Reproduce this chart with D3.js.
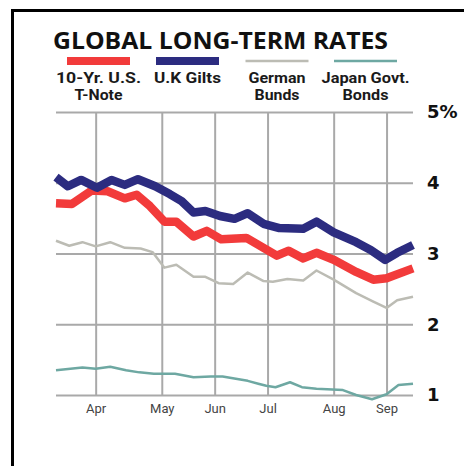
<!DOCTYPE html>
<html>
<head>
<meta charset="utf-8">
<script src="https://cdn.jsdelivr.net/npm/d3@7"></script>
<style>
  body { margin: 0; background: #fff; }
  svg { display: block; }
  .grid line { stroke: #a9a9a9; stroke-width: 2; }
  .grid .domain { display: none; }
  .yaxis text { font-family: "DejaVu Sans", sans-serif; font-weight: bold; font-size: 18px; fill: #111; }
  .xaxis text { font-family: Roboto, "Liberation Sans", sans-serif; font-size: 13px; fill: #444; }
  .legend text { font-family: Roboto, "Liberation Sans", sans-serif; font-weight: bold; font-size: 14px; fill: #1a1a1a; }
</style>
</head>
<body>
<svg id="chart" width="464" height="466"></svg>
<script>
// weekly-ish readings, [week index, percent]
const usNote = [[0,3.71],[1.2,3.70],[2.7,3.89],[3.9,3.88],[5.2,3.78],[6.1,3.83],[7.1,3.67],[8.2,3.45],[9.1,3.45],[10.4,3.24],[11.4,3.32],[12.5,3.20],[14.4,3.22],[15.6,3.09],[16.7,2.97],[17.6,3.04],[18.7,2.93],[19.7,3.01],[21.0,2.91],[22.7,2.74],[24.0,2.63],[25.0,2.65],[27,2.79]];
const ukGilts = [[0,4.08],[0.9,3.95],[1.9,4.04],[3.1,3.93],[4.2,4.04],[5.2,3.97],[6.2,4.05],[7.5,3.95],[8.6,3.84],[9.5,3.74],[10.4,3.58],[11.3,3.60],[12.4,3.53],[13.5,3.49],[14.5,3.57],[15.7,3.42],[16.9,3.36],[18.7,3.35],[19.7,3.45],[21.0,3.30],[22.7,3.16],[23.8,3.05],[24.9,2.91],[25.8,3.01],[27,3.12]];
const germanBunds = [[0,3.18],[1.0,3.11],[2.0,3.16],[3.0,3.10],[4.1,3.16],[5.2,3.08],[6.4,3.07],[7.3,3.02],[8.2,2.80],[9.1,2.84],[10.4,2.67],[11.3,2.67],[12.3,2.58],[13.4,2.57],[14.5,2.73],[15.7,2.61],[16.4,2.60],[17.5,2.64],[18.7,2.62],[19.7,2.76],[21.0,2.63],[22.7,2.44],[24.0,2.32],[25.0,2.23],[25.8,2.34],[27,2.39]];
const japanBonds = [[0,1.35],[2.0,1.39],[3.0,1.37],[4.1,1.40],[5.3,1.35],[6.3,1.32],[7.4,1.30],[9.0,1.30],[10.4,1.25],[11.7,1.26],[12.6,1.26],[13.6,1.23],[14.5,1.20],[15.3,1.16],[15.9,1.13],[16.6,1.11],[17.7,1.18],[18.6,1.11],[19.7,1.09],[21.7,1.07],[22.7,1.00],[23.9,0.94],[25.0,1.01],[25.9,1.14],[27,1.16]];

const monthWeeks = [3, 8, 12, 16, 21, 25];
const monthLabels = ["Apr", "May", "Jun", "Jul", "Aug", "Sep"];
const rateTicks = [1, 2, 3, 4, 5];

const seriesKeys = ["us", "uk", "de", "jp"];
const seriesLabels = [["10-Yr. U.S.", "T-Note"], ["U.K Gilts"], ["German", "Bunds"], ["Japan Govt.", "Bonds"]];

const svg = d3.select("#chart");

const x = d3.scaleLinear().domain([0, 27]).range([56, 413]);
const y = d3.scaleLinear().domain([1, 5]).range([395, 112]);

const color = d3.scaleOrdinal()
    .domain(seriesKeys)
    .range(["#f23b3b", "#2c2c80", "#bcbcb4", "#6ea8a2"]);
const width = d3.scaleOrdinal()
    .domain(seriesKeys)
    .range([8.5, 8.5, 2.5, 2.5]);

// frame (left + top rule)
svg.append("path")
    .attr("d", "M12.5,466 V10.5 H464")
    .attr("fill", "none")
    .attr("stroke", "#000")
    .attr("stroke-width", 3);

// title
svg.append("text")
    .attr("x", 53)
    .attr("y", 49)
    .attr("textLength", 335)
    .attr("lengthAdjust", "spacingAndGlyphs")
    .style("font-family", "'Open Sans', sans-serif")
    .style("font-weight", "bold")
    .style("font-size", "24px")
    .style("fill", "#111")
    .text("GLOBAL LONG-TERM RATES");

// legend
const legendCx = [98.5, 187.5, 277, 365.5];
const legendW1 = [85, 67, 57, 88];
const legendW2 = [48, 0, 45, 46];
const legend = svg.append("g").attr("class", "legend");

seriesKeys.forEach((k, i) => {
    let g = legend.append("g");
    if (width(k) > 5) {
        g.append("rect")
            .attr("x", legendCx[i] - 31.5)
            .attr("y", 57)
            .attr("width", 63)
            .attr("height", 8)
            .attr("fill", color(k));
    } else {
        g.append("line")
            .attr("x1", legendCx[i] - 31.5)
            .attr("x2", legendCx[i] + 31.5)
            .attr("y1", 61)
            .attr("y2", 61)
            .attr("stroke", color(k))
            .attr("stroke-width", 2.5);
    }
    seriesLabels[i].forEach((t, j) => {
        g.append("text")
            .attr("x", legendCx[i])
            .attr("y", 83 + j * 17)
            .attr("text-anchor", "middle")
            .attr("textLength", j == 0 ? legendW1[i] : legendW2[i])
            .attr("lengthAdjust", "spacingAndGlyphs")
            .text(t);
    });
});

// horizontal grid + right labels
svg.append("g")
    .attr("class", "grid yaxis")
    .attr("transform", `translate(${x(27)},0)`)
    .call(d3.axisRight(y)
        .tickValues(rateTicks)
        .tickSizeInner(-(x(27) - x(0)))
        .tickSizeOuter(0)
        .tickPadding(14)
        .tickFormat(d => d == 5 ? "5%" : d));

// vertical grid + month labels
svg.append("g")
    .attr("class", "grid xaxis")
    .attr("transform", `translate(0,${y(1)})`)
    .call(d3.axisBottom(x)
        .tickValues(monthWeeks)
        .tickSizeInner(-(y(1) - y(5)))
        .tickSizeOuter(0)
        .tickPadding(9)
        .tickFormat((d, i) => monthLabels[i]));

// lines
const line = d3.line()
    .x(d => x(d[0]))
    .y(d => y(d[1]));

const series = [
    { key: "de", values: germanBunds },
    { key: "jp", values: japanBonds },
    { key: "us", values: usNote },
    { key: "uk", values: ukGilts }
];

svg.append("g")
    .selectAll("path")
    .data(series)
  .join("path")
    .attr("d", d => line(d.values))
    .attr("fill", "none")
    .attr("stroke", d => color(d.key))
    .attr("stroke-width", d => width(d.key))
    .attr("stroke-linejoin", "round");
</script>
</body>
</html>
